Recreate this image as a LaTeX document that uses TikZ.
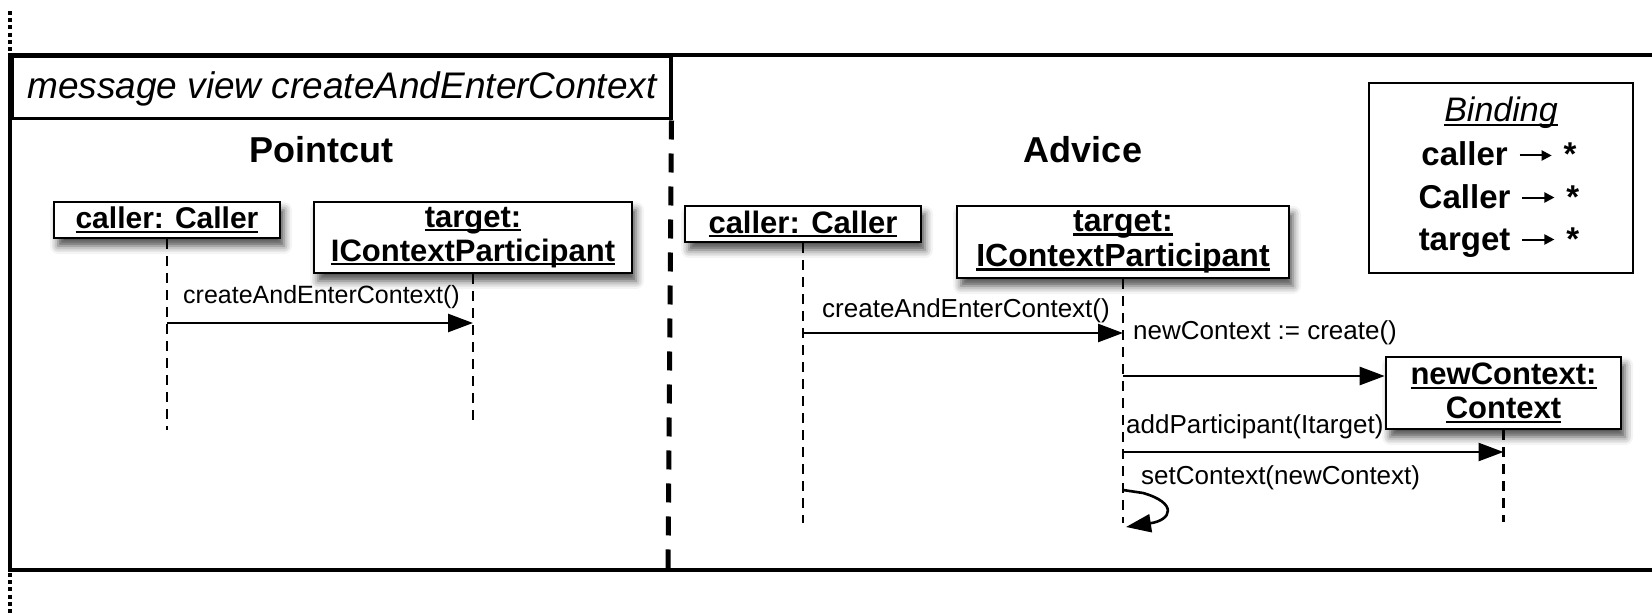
\documentclass[tikz,border=0pt]{standalone}
\usepackage{fontspec}
\setmainfont{Liberation Sans}
\usetikzlibrary{arrows.meta,shadows.blur}

% underline with a rule that scales with the large type
\newsavebox\undlbox
\newcommand\undl[1]{\sbox\undlbox{#1}\rlap{\rule[-4pt]{\wd\undlbox}{2.2pt}}\usebox\undlbox}
\newcommand\fsz[1]{\fontsize{#1}{#1}\selectfont}
% short arrow used in the binding list
\newcommand\bindarrow{\hspace{11pt}\tikz[baseline=0pt]\draw[line width=2pt,-{Triangle[length=10pt,width=10pt]}] (0pt,10.5pt) -- (32pt,10.5pt);\hspace{11pt}}

\tikzset{
  frameline/.style={line width=3.5pt, line join=miter},
  objbox/.style={draw, line width=2.6pt, fill=white, inner sep=0pt, align=center,
    font=\fsz{30}\bfseries,
    blur shadow={shadow xshift=4pt, shadow yshift=-8pt, shadow blur radius=8pt, shadow opacity=70}},
  lifeline/.style={line width=2.2pt, dash pattern=on 10pt off 7pt},
  msg/.style={line width=2.6pt, -{Triangle[length=25pt,width=18pt]}},
  msglabel/.style={anchor=base west, inner sep=0pt},
  header/.style={anchor=base, inner sep=0pt, font=\fsz{36}\bfseries},
  bindline/.style={anchor=base, inner sep=0pt, font=\fsz{33}\bfseries},
  dots/.style={line width=4pt, dash pattern=on 4pt off 3.2pt}
}

\begin{document}
\begin{tikzpicture}[x=1pt, y=-1pt]
\useasboundingbox (0,0) rectangle (1652,615);

% diagram frame, open on the right
\draw[dots] (10,11) -- (10,53);
\draw[dots] (10,573) -- (10,615);
\draw[frameline] (1652,55) -- (10,55) -- (10,570) -- (1652,570);

% name tab
\node[draw, frameline, anchor=north west, minimum width=659pt, minimum height=62pt, inner sep=0pt]
  (tab) at (10,55) {};
\node[anchor=base west, inner sep=0pt, font=\fsz{37}\itshape] (tabtext) at (27,99)
  {message view createAndEnterContext};

% separator between pointcut and advice
\coordinate (sepEnd) at (668,570);
\draw[line width=5pt, dash pattern=on 19pt off 14pt] (tab.south east) ++(-1,0) -- (sepEnd);

\node[header] (pointcut) at (321,163) {Pointcut};
\node[header] (advice) at (1083,163) {Advice};

% ---------- pointcut ----------
\node[objbox, minimum width=226pt, minimum height=36pt] (pcCaller) at (167,220) {\undl{caller: Caller}};
\node[objbox, minimum width=318pt, minimum height=71pt, font=\fsz{31}\bfseries] (pcTarget) at (473,237.5)
  {\undl{target:}\\[3pt]\undl{IContextParticipant}};

\coordinate (pcCallerEnd) at (167,430);
\coordinate (pcTargetEnd) at (473,426);
\draw[lifeline] (pcCaller.south) -- (pcCallerEnd);
\draw[lifeline] (pcTarget.south) -- (pcTargetEnd);

\node[msglabel, font=\fsz{25}] (pcMsgLbl) at (183,303) {createAndEnterContext()};
\draw[msg] (pcCaller.south |- 0,323) -- (pcTarget.south |- 0,323);

% ---------- advice ----------
\node[objbox, minimum width=236pt, minimum height=36pt, font=\fsz{31}\bfseries] (adCaller) at (803,224) {\undl{caller: Caller}};
\node[objbox, minimum width=332pt, minimum height=72pt, font=\fsz{32}\bfseries] (adTarget) at (1123,242)
  {\undl{target:}\\[3pt]\undl{IContextParticipant}};
\node[objbox, minimum width=235pt, minimum height=72pt, font=\fsz{31}\bfseries] (ctx) at (1503.5,393)
  {\undl{newContext:}\\[3pt]\undl{Context}};

\coordinate (adCallerEnd) at (803,523);
\coordinate (adTargetEnd) at (1123,523);
\coordinate (ctxEnd) at (1503.5,522);
\draw[lifeline] (adCaller.south) -- (adCallerEnd);
\draw[lifeline] (adTarget.south) -- (adTargetEnd);
\draw[lifeline] (ctx.south) -- (ctxEnd);

\node[msglabel, font=\fsz{26}] (adMsgLbl) at (822,317) {createAndEnterContext()};
\draw[msg] (adCaller.south |- 0,333) -- (adTarget.south |- 0,333);

\node[msglabel, font=\fsz{26}] (createLbl) at (1133,339) {newContext := create()};
\draw[msg] (adTarget.south |- 0,376) -- (ctx.west |- 0,376);

\node[msglabel, font=\fsz{26}] (addLbl) at (1126,433) {addParticipant(Itarget)};
\draw[msg] (adTarget.south |- 0,452) -- (ctx.south |- 0,452);

\node[msglabel, font=\fsz{26}] (setLbl) at (1141,484) {setContext(newContext)};
\coordinate (selfEnd) at (1126,527);
\draw[line width=2.6pt, -{Triangle[length=25pt,width=18pt]}]
  (adTarget.south |- 0,490) -- (1143,493) .. controls (1178,503) and (1172,520) .. (selfEnd);

% ---------- binding ----------
\node[draw, line width=2.6pt, minimum width=264pt, minimum height=190pt, inner sep=0pt] (binding) at (1501,178) {};
\node[anchor=base, inner sep=0pt, font=\fsz{34}\itshape] (bindTitle) at (1501,122) {\undl{Binding}};
\node[bindline] (bind1) at (1499,166) {caller\bindarrow *};
\node[bindline] (bind2) at (1499,208) {Caller\bindarrow *};
\node[bindline] (bind3) at (1499,250) {target\bindarrow *};

\end{tikzpicture}
\end{document}
